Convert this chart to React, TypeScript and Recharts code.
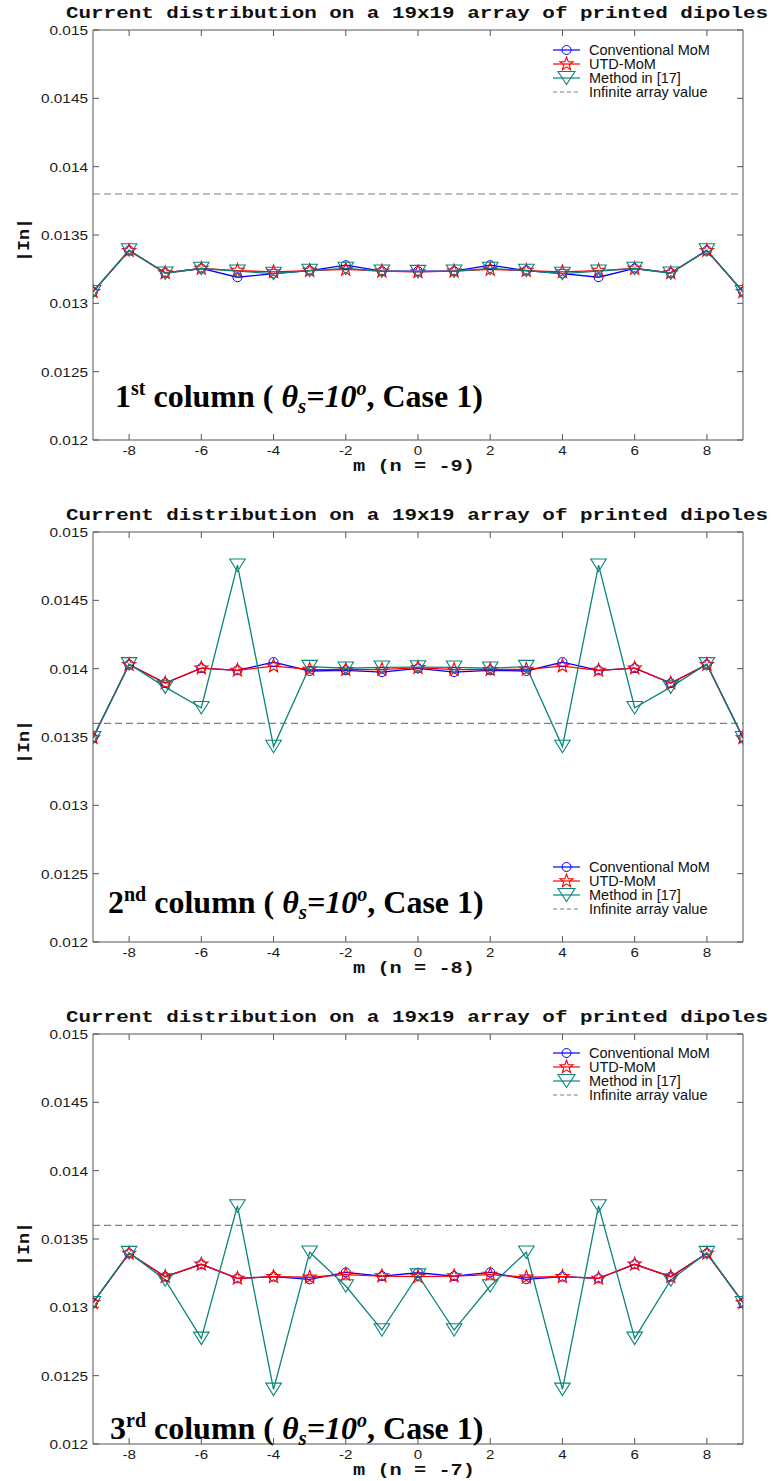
import React from 'react';
import { LineChart, Line, XAxis, YAxis, ReferenceLine, Legend } from 'recharts';

// ---------- data ----------
const mValues = [-9, -8, -7, -6, -5, -4, -3, -2, -1, 0, 1, 2, 3, 4, 5, 6, 7, 8, 9];
const xTicks = [-8, -6, -4, -2, 0, 2, 4, 6, 8];
const yTicks = [0.012, 0.0125, 0.013, 0.0135, 0.014, 0.0145, 0.015];

const chartTitle = 'Current distribution on a 19x19 array of printed dipoles';
const yAxisLabel = '|In|';
const xAxisLabels = ['m (n = -9)', 'm (n = -8)', 'm (n = -7)'];
const columnNumbers = ['1', '2', '3'];
const columnSuffixes = ['st', 'nd', 'rd'];
const seriesNames = ['Conventional MoM', 'UTD-MoM', 'Method in [17]', 'Infinite array value'];
const infiniteValues = [0.0138, 0.0136, 0.0136];

const p1Conventional = [0.013085, 0.013386, 0.013223, 0.013255, 0.013191, 0.013218, 0.01324, 0.013279, 0.013235, 0.013235, 0.013235, 0.013279, 0.01324, 0.013218, 0.013191, 0.013255, 0.013223, 0.013386, 0.013085];
const p1Utd = [0.013085, 0.013386, 0.013223, 0.013255, 0.01324, 0.01323, 0.01324, 0.013248, 0.013235, 0.01323, 0.013235, 0.013248, 0.01324, 0.01323, 0.01324, 0.013255, 0.013223, 0.013386, 0.013085];
const p1Method = [0.013085, 0.01339, 0.01322, 0.013255, 0.013235, 0.013218, 0.01324, 0.013255, 0.013235, 0.013232, 0.013235, 0.013255, 0.01324, 0.013218, 0.013235, 0.013255, 0.01322, 0.01339, 0.013085];

const p2Conventional = [0.013494, 0.01403, 0.013894, 0.014004, 0.013988, 0.014048, 0.013983, 0.013988, 0.013975, 0.014002, 0.013975, 0.013988, 0.013983, 0.014048, 0.013988, 0.014004, 0.013894, 0.01403, 0.013494];
const p2Utd = [0.013494, 0.01403, 0.013894, 0.014004, 0.013988, 0.014019, 0.013995, 0.013993, 0.013993, 0.014008, 0.013993, 0.013993, 0.013995, 0.014019, 0.013988, 0.014004, 0.013894, 0.01403, 0.013494];
const p2Method = [0.013494, 0.014035, 0.013865, 0.013714, 0.014757, 0.01343, 0.014015, 0.014003, 0.01401, 0.014012, 0.01401, 0.014003, 0.014015, 0.01343, 0.014757, 0.013714, 0.013865, 0.014035, 0.013494];

const p3Conventional = [0.013034, 0.013395, 0.013224, 0.013315, 0.013212, 0.013224, 0.013205, 0.013256, 0.013229, 0.013253, 0.013229, 0.013256, 0.013205, 0.013224, 0.013212, 0.013315, 0.013224, 0.013395, 0.013034];
const p3Utd = [0.013034, 0.013395, 0.013224, 0.013315, 0.013212, 0.013224, 0.01322, 0.01324, 0.013229, 0.013224, 0.013229, 0.01324, 0.01322, 0.013224, 0.013212, 0.013315, 0.013224, 0.013395, 0.013034];
const p3Method = [0.013034, 0.0134, 0.0132, 0.012773, 0.013742, 0.0124, 0.013403, 0.013156, 0.012834, 0.013236, 0.012834, 0.013156, 0.013403, 0.0124, 0.013742, 0.012773, 0.0132, 0.0134, 0.013034];

const panelSeries = [
  [p1Conventional, p1Utd, p1Method],
  [p2Conventional, p2Utd, p2Method],
  [p3Conventional, p3Utd, p3Method],
];

// ---------- styling / layout ----------
const BLUE = '#0000ff';
const RED = '#ff0000';
const TEAL = '#0a857a';
const AXIS = '#555555';
const DASH = '#808080';
const W = 773;
const H = 475;
const TICK = 6;
const panelTops = [0, 502, 1004];
const legendTops = [43, 358, 42];
const annoX = [115, 108, 110];
const annoY = [407, 411, 435];
const SANS = 'Liberation Sans, Arial, sans-serif';
const MONO = 'Liberation Mono, Courier New, monospace';

function starPath(cx: number, cy: number, R: number, r: number) {
  let d = '';
  for (let i = 0; i < 10; i++) {
    const rad = i % 2 === 0 ? R : r;
    const a = -Math.PI / 2 + (i * Math.PI) / 5;
    d += (i ? 'L' : 'M') + (cx + rad * Math.cos(a)).toFixed(2) + ',' + (cy + rad * Math.sin(a)).toFixed(2);
  }
  return d + 'Z';
}

function trianglePath(cx: number, cy: number, w: number, h: number) {
  return `M${cx - w / 2},${cy - h / 2}L${cx + w / 2},${cy - h / 2}L${cx},${cy + h / 2}Z`;
}

const CircleDot = (props: any) => {
  const { cx, cy, index } = props;
  if (cx == null || cy == null) return <g key={`c${index}`} />;
  return <circle key={`c${index}`} cx={cx} cy={cy} r={4.5} fill="none" stroke={BLUE} strokeWidth={1} />;
};
const StarDot = (props: any) => {
  const { cx, cy, index } = props;
  if (cx == null || cy == null) return <g key={`s${index}`} />;
  return <path key={`s${index}`} d={starPath(cx, cy, 7, 2.9)} fill="none" stroke={RED} strokeWidth={1.1} />;
};
const TriDot = (props: any) => {
  const { cx, cy, index } = props;
  if (cx == null || cy == null) return <g key={`t${index}`} />;
  return <path key={`t${index}`} d={trianglePath(cx, cy, 15.5, 12.5)} fill="none" stroke={TEAL} strokeWidth={1.1} />;
};

// bottom axis: tickSize 0, tickMargin 5 -> axis line at y - 5
const XTick = (props: any) => {
  const { x, y, payload } = props;
  const ay = y - 5;
  return (
    <g>
      <line x1={x} x2={x} y1={ay} y2={ay - TICK} stroke={AXIS} strokeWidth={1} />
      <text transform={`translate(${x},${y}) scale(1.12,1)`} dy="0.75em" textAnchor="middle" fontFamily={SANS} fontSize={13.5} fill="#1a1a1a">
        {String(payload.value)}
      </text>
    </g>
  );
};
// left axis: tickSize 0, tickMargin 5 -> axis line at x + 5
const YTick = (props: any) => {
  const { x, y, payload } = props;
  const ax = x + 5;
  return (
    <g>
      <line x1={ax} x2={ax + TICK} y1={y} y2={y} stroke={AXIS} strokeWidth={1} />
      <text transform={`translate(${x},${y}) scale(1.14,1)`} dy="0.36em" textAnchor="end" fontFamily={SANS} fontSize={13.5} fill="#1a1a1a">
        {String(payload.value)}
      </text>
    </g>
  );
};
const TopTick = (props: any) => {
  const { x, y } = props;
  return <line x1={x} x2={x} y1={y} y2={y + TICK} stroke={AXIS} strokeWidth={1} />;
};
const RightTick = (props: any) => {
  const { x, y } = props;
  return <line x1={x} x2={x - TICK} y1={y} y2={y} stroke={AXIS} strokeWidth={1} />;
};

const LegendBox = () => {
  const rowH = 14;
  const rows = [0, 1, 2, 3];
  return (
    <svg width={210} height={60} style={{ overflow: 'visible', display: 'block' }}>
      {rows.map((i) => {
        const cy = 7 + i * rowH;
        const color = [BLUE, RED, TEAL, DASH][i];
        return (
          <g key={i}>
            <line x1={0} x2={27} y1={cy} y2={cy} stroke={color} strokeWidth={1.2} strokeDasharray={i === 3 ? '4 3' : undefined} />
            {i === 0 && <circle cx={13.5} cy={cy} r={4.5} fill="none" stroke={BLUE} strokeWidth={1} />}
            {i === 1 && <path d={starPath(13.5, cy, 7, 2.9)} fill="none" stroke={RED} strokeWidth={1.1} />}
            {i === 2 && <path d={trianglePath(13.5, cy, 17, 13)} fill="none" stroke={TEAL} strokeWidth={1.1} />}
            <text x={36} y={cy} dy="0.36em" fontFamily={SANS} fontSize={14.5} fill="#111">
              {seriesNames[i]}
            </text>
          </g>
        );
      })}
    </svg>
  );
};

function Panel({ idx }: { idx: number }) {
  const [conv, utd, method] = panelSeries[idx];
  const rows = mValues.map((m, i) => ({ m, conv: conv[i], utd: utd[i], method: method[i] }));
  const dom: [number, number] = [0.012, 0.015];
  const xdom: [number, number] = [-9, 9];
  const serif = 'Liberation Serif, Times New Roman, serif';
  return (
    <div style={{ position: 'absolute', left: 0, top: panelTops[idx], width: W, height: H }}>
      <LineChart width={W} height={H} data={rows} margin={{ top: 30, right: 30, bottom: 5, left: 0 }}>
        <XAxis xAxisId="b" dataKey="m" type="number" domain={xdom} ticks={xTicks} allowDataOverflow interval={0}
          height={30} tickLine={false} tickSize={0} tickMargin={5} axisLine={{ stroke: AXIS }} tick={<XTick />} />
        <XAxis xAxisId="t" orientation="top" dataKey="m" type="number" domain={xdom} ticks={xTicks} allowDataOverflow interval={0}
          mirror tickLine={false} tickSize={0} tickMargin={0} axisLine={{ stroke: AXIS }} tick={<TopTick />} />
        <YAxis yAxisId="l" width={93} type="number" domain={dom} ticks={yTicks} allowDataOverflow interval={0}
          tickLine={false} tickSize={0} tickMargin={5} axisLine={{ stroke: AXIS }} tick={<YTick />} />
        <YAxis yAxisId="r" orientation="right" type="number" domain={dom} ticks={yTicks} allowDataOverflow interval={0}
          mirror tickLine={false} tickSize={0} tickMargin={0} axisLine={{ stroke: AXIS }} tick={<RightTick />} />
        <ReferenceLine xAxisId="b" yAxisId="l" y={infiniteValues[idx]} stroke={DASH} strokeWidth={1.1} strokeDasharray="7 4" />
        <Line xAxisId="b" yAxisId="l" type="linear" dataKey="conv" stroke={BLUE} strokeWidth={1.3} dot={CircleDot} activeDot={false} isAnimationActive={false} />
        <Line xAxisId="b" yAxisId="l" type="linear" dataKey="utd" stroke={RED} strokeWidth={1.3} dot={StarDot} activeDot={false} isAnimationActive={false} />
        <Line xAxisId="b" yAxisId="l" type="linear" dataKey="method" stroke={TEAL} strokeWidth={1.3} dot={TriDot} activeDot={false} isAnimationActive={false} />
        <Legend layout="vertical" align="center" verticalAlign="middle" content={<LegendBox />}
          wrapperStyle={{ position: 'absolute', left: 553, top: legendTops[idx], width: 210, height: 60 }} />
      </LineChart>
      <svg width={W} height={H + 5} style={{ position: 'absolute', left: 0, top: 0, overflow: 'visible', pointerEvents: 'none' }}>
        <text x={66} y={18} textLength={702} lengthAdjust="spacingAndGlyphs" fontFamily={MONO} fontWeight="bold" fontSize={17} fill="#111">
          {chartTitle}
        </text>
        <text x={353} y={471} textLength={122} lengthAdjust="spacingAndGlyphs" fontFamily={MONO} fontWeight="bold" fontSize={17} fill="#111">
          {xAxisLabels[idx]}
        </text>
        <text x={0} y={0} transform="translate(29,240) rotate(-90)" textAnchor="middle" textLength={44} lengthAdjust="spacingAndGlyphs" fontFamily={MONO} fontWeight="bold" fontSize={17} fill="#111">
          {yAxisLabel}
        </text>
        <text x={annoX[idx]} y={annoY[idx]} fontFamily={serif} fontWeight="bold" fontSize={32} fill="#000">
          {columnNumbers[idx]}
          <tspan fontSize={20} dy={-12}>{columnSuffixes[idx]}</tspan>
          <tspan dy={12}>{' column ( '}</tspan>
          <tspan fontStyle="italic">θ</tspan>
          <tspan fontStyle="italic" fontSize={21} dy={6}>s</tspan>
          <tspan fontStyle="italic" dy={-6}>=10</tspan>
          <tspan fontStyle="italic" fontSize={20} dy={-12}>o</tspan>
          <tspan dy={12}>, Case 1)</tspan>
        </text>
      </svg>
    </div>
  );
}

export default function App() {
  return (
    <div style={{ position: 'absolute', left: 0, top: 0, width: W, height: 1481, background: '#fff' }}>
      <Panel idx={0} />
      <Panel idx={1} />
      <Panel idx={2} />
    </div>
  );
}
